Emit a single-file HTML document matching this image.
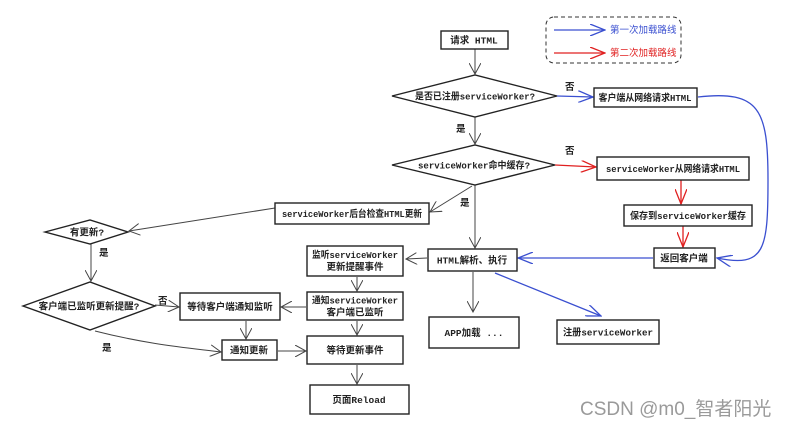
<!DOCTYPE html>
<html><head><meta charset="utf-8"><style>
body{margin:0;background:#fff;}
svg{display:block;font-family:"Liberation Mono","Noto Sans CJK SC",monospace;}
text{font-size:9.5px;fill:#222;font-weight:bold;}
.b{fill:#fff;stroke:#222;stroke-width:1.4;}
.l{fill:none;stroke:#444;stroke-width:1;}
.bl{fill:none;stroke:#3a4fd0;stroke-width:1.3;}
.rd{fill:none;stroke:#e02020;stroke-width:1.3;}
</style></head><body>
<svg width="785" height="425" viewBox="0 0 785 425" xmlns="http://www.w3.org/2000/svg">
<defs>
<marker id="a" viewBox="0 0 12 12" refX="11" refY="6" markerWidth="12" markerHeight="12" markerUnits="userSpaceOnUse" orient="auto"><path d="M0,0 L11,6 L0,12" fill="none" stroke="#444" stroke-width="1"/></marker>
<marker id="ab" viewBox="0 0 16 12" refX="15" refY="6" markerWidth="16" markerHeight="12" markerUnits="userSpaceOnUse" orient="auto"><path d="M0,0 L15,6 L0,12" fill="none" stroke="#3a4fd0" stroke-width="1.3"/></marker>
<marker id="ar" viewBox="0 0 16 12" refX="15" refY="6" markerWidth="16" markerHeight="12" markerUnits="userSpaceOnUse" orient="auto"><path d="M0,0 L15,6 L0,12" fill="none" stroke="#e02020" stroke-width="1.3"/></marker>
</defs>
<rect x="546" y="17" width="135" height="46" rx="8" fill="none" stroke="#333" stroke-dasharray="4,3"/>
<line x1="554" y1="30" x2="605" y2="30" class="bl" marker-end="url(#ab)"/>
<text x="610" y="33" style="fill:#3a4fd0;font-weight:normal">第一次加载路线</text>
<line x1="554" y1="53" x2="605" y2="53" class="rd" marker-end="url(#ar)"/>
<text x="610" y="56" style="fill:#e02020;font-weight:normal">第二次加载路线</text>
<line x1="475" y1="49" x2="475" y2="74" class="l" marker-end="url(#a)"/>
<line x1="475" y1="117" x2="475" y2="144" class="l" marker-end="url(#a)"/>
<line x1="557" y1="96" x2="593" y2="97" class="bl" marker-end="url(#ab)"/>
<line x1="555" y1="165" x2="596" y2="167" class="rd" marker-end="url(#ar)"/>
<line x1="681" y1="180" x2="681" y2="204" class="rd" marker-end="url(#ar)"/>
<line x1="683" y1="226" x2="683" y2="247" class="rd" marker-end="url(#ar)"/>
<path d="M698,97 C760,90 768,110 768,180 C768,250 765,268 717,258" class="bl" marker-end="url(#ab)"/>
<line x1="653" y1="258" x2="518" y2="258" class="bl" marker-end="url(#ab)"/>
<line x1="475" y1="185" x2="475" y2="248" class="l" marker-end="url(#a)"/>
<line x1="472" y1="186" x2="430" y2="212" class="l" marker-end="url(#a)"/>
<text x="460" y="206">是</text>
<line x1="427" y1="258" x2="406" y2="259" class="l" marker-end="url(#a)"/>
<line x1="473" y1="272" x2="473" y2="312" class="l" marker-end="url(#a)"/>
<line x1="495" y1="273" x2="601" y2="316" class="bl" marker-end="url(#ab)"/>
<line x1="275" y1="208" x2="129" y2="231" class="l" marker-end="url(#a)"/>
<line x1="91" y1="244" x2="91" y2="281" class="l" marker-end="url(#a)"/>
<line x1="155" y1="305" x2="179" y2="307" class="l" marker-end="url(#a)"/>
<line x1="306" y1="307" x2="281" y2="307" class="l" marker-end="url(#a)"/>
<line x1="357" y1="277" x2="357" y2="291" class="l" marker-end="url(#a)"/>
<line x1="357" y1="321" x2="357" y2="335" class="l" marker-end="url(#a)"/>
<line x1="246" y1="321" x2="246" y2="339" class="l" marker-end="url(#a)"/>
<path d="M95,331 C150,345 190,348 221,352" class="l" marker-end="url(#a)"/>
<line x1="278" y1="351" x2="306" y2="351" class="l" marker-end="url(#a)"/>
<line x1="357" y1="365" x2="357" y2="384" class="l" marker-end="url(#a)"/>
<rect x="441" y="31" width="67" height="18" class="b"/><text x="474" y="43.5" text-anchor="middle">请求 HTML</text>
<polygon points="392,96 475,75 557,96 475,117" class="b"/><text x="475" y="99.5" text-anchor="middle" textLength="120" lengthAdjust="spacingAndGlyphs">是否已注册serviceWorker?</text>
<text x="565" y="90">否</text>
<rect x="594" y="88" width="103" height="19" class="b"/><text x="645" y="101" text-anchor="middle" textLength="93" lengthAdjust="spacingAndGlyphs">客户端从网络请求HTML</text>
<text x="456" y="132">是</text>
<polygon points="392,165 475,145 555,165 475,185" class="b"/><text x="474" y="168.5" text-anchor="middle" textLength="112" lengthAdjust="spacingAndGlyphs">serviceWorker命中缓存?</text>
<text x="565" y="154">否</text>
<rect x="597" y="157" width="152" height="23" class="b"/><text x="673" y="172" text-anchor="middle" textLength="134" lengthAdjust="spacingAndGlyphs">serviceWorker从网络请求HTML</text>
<rect x="624" y="205" width="128" height="21" class="b"/><text x="688" y="219" text-anchor="middle" textLength="116" lengthAdjust="spacingAndGlyphs">保存到serviceWorker缓存</text>
<rect x="654" y="248" width="61" height="20" class="b"/><text x="684" y="261.5" text-anchor="middle">返回客户端</text>
<rect x="428" y="249" width="89" height="22" class="b"/><text x="472" y="263.5" text-anchor="middle">HTML解析、执行</text>
<rect x="275" y="203" width="154" height="21" class="b"/><text x="352" y="217" text-anchor="middle" textLength="140" lengthAdjust="spacingAndGlyphs">serviceWorker后台检查HTML更新</text>
<polygon points="45,232 90,220 128,232 90,244" class="b"/><text x="87" y="235.5" text-anchor="middle">有更新?</text>
<text x="99" y="256">是</text>
<polygon points="23,306 90,282 155,306 90,330" class="b"/><text x="89" y="309.5" text-anchor="middle">客户端已监听更新提醒?</text>
<text x="158" y="304">否</text>
<rect x="180" y="293" width="100" height="27" class="b"/><text x="230" y="310" text-anchor="middle">等待客户端通知监听</text>
<rect x="307" y="246" width="96" height="30" class="b"/><text x="355" y="258" text-anchor="middle" textLength="86" lengthAdjust="spacingAndGlyphs">监听serviceWorker</text><text x="355" y="270" text-anchor="middle">更新提醒事件</text>
<rect x="307" y="292" width="96" height="28" class="b"/><text x="355" y="303.5" text-anchor="middle" textLength="86" lengthAdjust="spacingAndGlyphs">通知serviceWorker</text><text x="355" y="315.5" text-anchor="middle">客户端已监听</text>
<text x="102" y="351">是</text>
<rect x="222" y="340" width="55" height="20" class="b"/><text x="249" y="353.5" text-anchor="middle">通知更新</text>
<rect x="307" y="336" width="96" height="28" class="b"/><text x="355" y="353.5" text-anchor="middle">等待更新事件</text>
<rect x="310" y="385" width="99" height="29" class="b"/><text x="359" y="403" text-anchor="middle">页面Reload</text>
<rect x="429" y="317" width="90" height="31" class="b"/><text x="474" y="336" text-anchor="middle">APP加载 ...</text>
<rect x="557" y="320" width="102" height="24" class="b"/><text x="608" y="335.5" text-anchor="middle" textLength="90" lengthAdjust="spacingAndGlyphs">注册serviceWorker</text>
<text x="580" y="415" style="font-family:'Liberation Sans','Noto Sans CJK SC',sans-serif;font-size:19px;fill:#9a9a9a;font-weight:normal">CSDN @m0_智者阳光</text>
</svg>
</body></html>
